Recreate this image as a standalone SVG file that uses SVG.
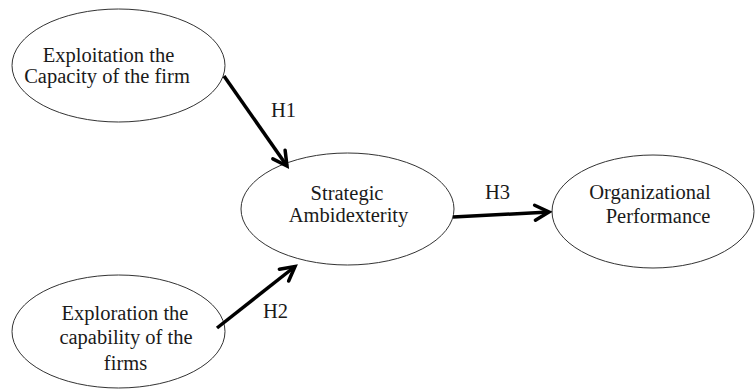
<svg xmlns="http://www.w3.org/2000/svg" width="755" height="389" viewBox="0 0 755 389">
<style>
.node ellipse{fill:#fff;stroke:#333;stroke-width:1}
.t{font-family:"Liberation Serif","Times New Roman",serif;font-size:20.5px;fill:#1a1a1a;text-anchor:middle}
.lbl{font-family:"Liberation Serif","Times New Roman",serif;font-size:20.5px;fill:#1a1a1a}
.conn line{stroke:#000;stroke-width:3.5;fill:none}
</style>
<defs>
<marker id="arr" markerUnits="userSpaceOnUse" markerWidth="24" markerHeight="24" viewBox="-18 -12 24 24" refX="0" refY="0" orient="auto">
<path d="M-14,-7.5 L0,0 L-14,7.5" fill="none" stroke="#000" stroke-width="3.5" stroke-linejoin="miter" stroke-linecap="round"/>
</marker>
</defs>
<rect width="755" height="389" fill="#fff"/>
<g id="exploitation" class="node">
<ellipse cx="118.5" cy="65.5" rx="106.5" ry="56.5"/>
<text class="t" x="108.5" y="61.5">Exploitation the</text>
<text class="t" x="107" y="82.5">Capacity of the firm</text>
</g>
<g id="exploration" class="node">
<ellipse cx="118.5" cy="331.5" rx="106.5" ry="56.5"/>
<text class="t" x="125" y="319.5">Exploration the</text>
<text class="t" x="126" y="343.5">capability of the</text>
<text class="t" x="125.5" y="370">firms</text>
</g>
<g id="ambidexterity" class="node">
<ellipse cx="347.5" cy="209" rx="106.5" ry="56"/>
<text class="t" x="347" y="199.5">Strategic</text>
<text class="t" x="348.5" y="221.5">Ambidexterity</text>
</g>
<g id="performance" class="node">
<ellipse cx="653" cy="211.5" rx="101" ry="56.5"/>
<text class="t" x="650" y="198.5">Organizational</text>
<text class="t" x="658" y="223">Performance</text>
</g>
<g id="connectors" class="conn">
<line x1="224" y1="76" x2="287" y2="166" marker-end="url(#arr)"/>
<line x1="217" y1="328" x2="295" y2="266.5" marker-end="url(#arr)"/>
<line x1="453" y1="217" x2="549" y2="212" marker-end="url(#arr)"/>
</g>
<g id="labels">
<text class="lbl" x="271" y="117">H1</text>
<text class="lbl" x="263" y="318">H2</text>
<text class="lbl" x="485" y="199">H3</text>
</g>
</svg>
